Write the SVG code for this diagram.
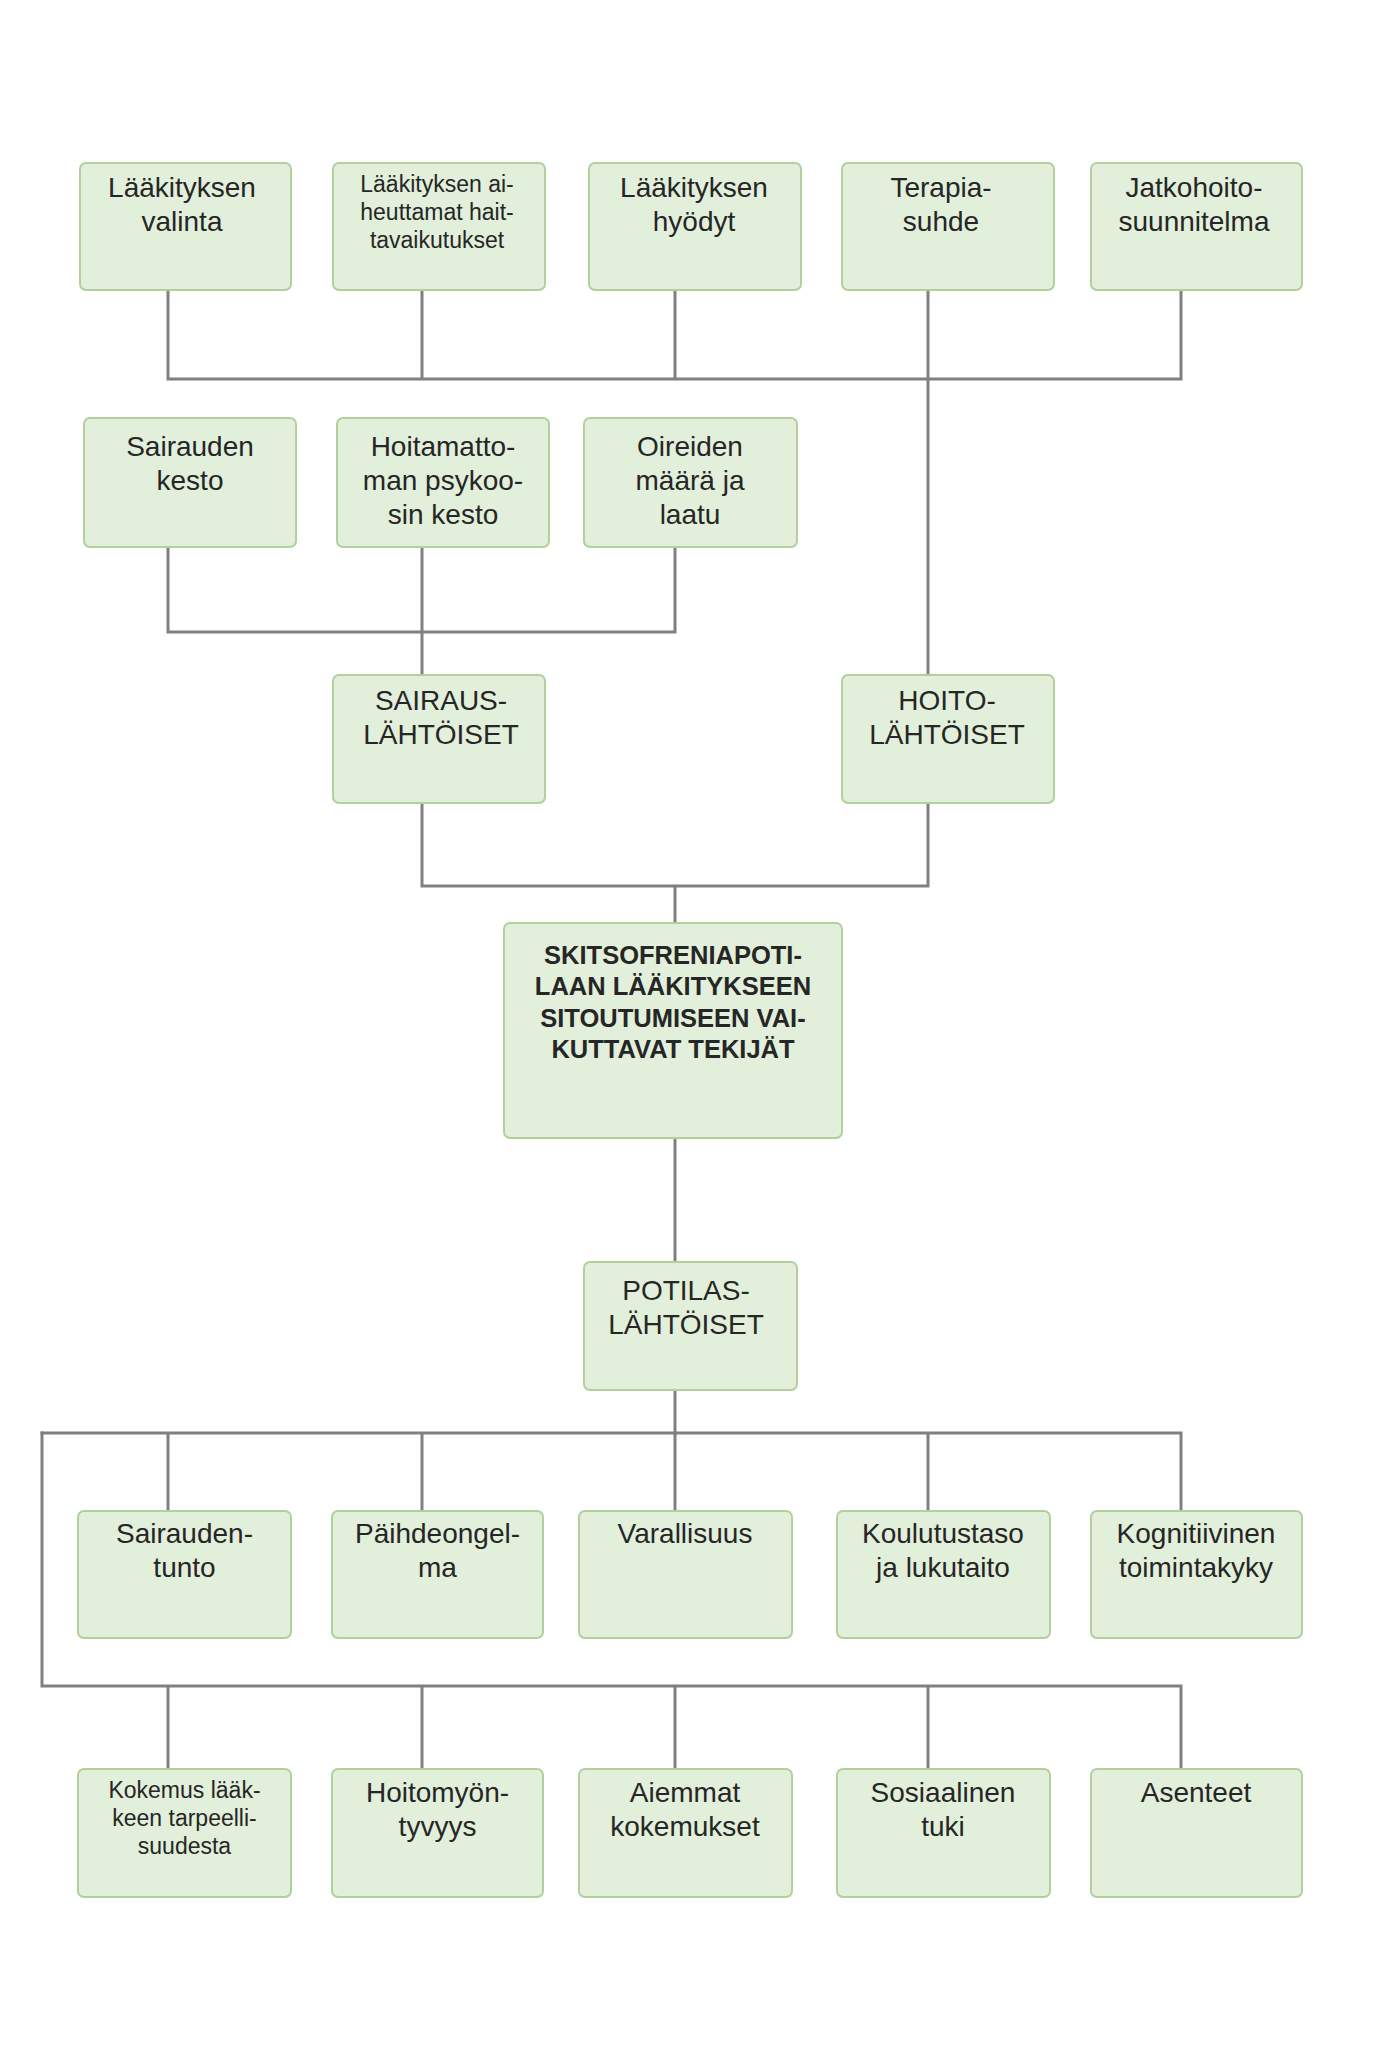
<svg xmlns="http://www.w3.org/2000/svg" width="1395" height="2048" viewBox="0 0 1395 2048">
<style>
.box{fill:#e2efda;stroke:#b2d09c;stroke-width:2}
.t{font-family:"Liberation Sans",Arial,sans-serif;font-size:28px;fill:#262626;text-anchor:middle}
.s{font-family:"Liberation Sans",Arial,sans-serif;font-size:23px;fill:#262626;text-anchor:middle}
.b{font-family:"Liberation Sans",Arial,sans-serif;font-size:25.5px;font-weight:bold;fill:#262626;text-anchor:middle}
.c{fill:none;stroke:#808080;stroke-width:3;stroke-linejoin:miter;stroke-linecap:square}
</style>
<rect width="1395" height="2048" fill="#ffffff"/>
<g id="connectors">
<path class="c" d="M168 290V379M422 290V379M675 290V379M1181 290V379M168 379H1181M928 290V675"/>
<path class="c" d="M168 547V632M675 547V632M168 632H675M422 547V675"/>
<path class="c" d="M422 803V886M928 803V886M422 886H928M675 886V923"/>
<path class="c" d="M675 1138V1262"/>
<path class="c" d="M675 1390V1433"/>
<path class="c" d="M42 1433H1181M168 1433V1511M422 1433V1511M675 1433V1511M928 1433V1511M1181 1433V1511"/>
<path class="c" d="M42 1433V1686M42 1686H1181M168 1686V1769M422 1686V1769M675 1686V1769M928 1686V1769M1181 1686V1769"/>
</g>
<g id="n1"><rect class="box" x="80" y="163" width="211" height="127" rx="6"/><text class="t" x="182" y="197">Lääkityksen</text><text class="t" x="182" y="231">valinta</text></g>
<g id="n2"><rect class="box" x="333" y="163" width="212" height="127" rx="6"/><text class="s" x="437" y="192">Lääkityksen ai-</text><text class="s" x="437" y="220">heuttamat hait-</text><text class="s" x="437" y="248">tavaikutukset</text></g>
<g id="n3"><rect class="box" x="589" y="163" width="212" height="127" rx="6"/><text class="t" x="694" y="197">Lääkityksen</text><text class="t" x="694" y="231">hyödyt</text></g>
<g id="n4"><rect class="box" x="842" y="163" width="212" height="127" rx="6"/><text class="t" x="941" y="197">Terapia-</text><text class="t" x="941" y="231">suhde</text></g>
<g id="n5"><rect class="box" x="1091" y="163" width="211" height="127" rx="6"/><text class="t" x="1194" y="197">Jatkohoito-</text><text class="t" x="1194" y="231">suunnitelma</text></g>
<g id="n6"><rect class="box" x="84" y="418" width="212" height="129" rx="6"/><text class="t" x="190" y="456">Sairauden</text><text class="t" x="190" y="490">kesto</text></g>
<g id="n7"><rect class="box" x="337" y="418" width="212" height="129" rx="6"/><text class="t" x="443" y="456">Hoitamatto-</text><text class="t" x="443" y="490">man psykoo-</text><text class="t" x="443" y="524">sin kesto</text></g>
<g id="n8"><rect class="box" x="584" y="418" width="213" height="129" rx="6"/><text class="t" x="690" y="456">Oireiden</text><text class="t" x="690" y="490">määrä ja</text><text class="t" x="690" y="524">laatu</text></g>
<g id="n9"><rect class="box" x="333" y="675" width="212" height="128" rx="6"/><text class="t" x="441" y="710">SAIRAUS-</text><text class="t" x="441" y="744">LÄHTÖISET</text></g>
<g id="n10"><rect class="box" x="842" y="675" width="212" height="128" rx="6"/><text class="t" x="947" y="710">HOITO-</text><text class="t" x="947" y="744">LÄHTÖISET</text></g>
<g id="n11"><rect class="box" x="504" y="923" width="338" height="215" rx="6"/><text class="b" x="673" y="964">SKITSOFRENIAPOTI-</text><text class="b" x="673" y="995">LAAN LÄÄKITYKSEEN</text><text class="b" x="673" y="1027">SITOUTUMISEEN VAI-</text><text class="b" x="673" y="1058">KUTTAVAT TEKIJÄT</text></g>
<g id="n12"><rect class="box" x="584" y="1262" width="213" height="128" rx="6"/><text class="t" x="686" y="1300">POTILAS-</text><text class="t" x="686" y="1334">LÄHTÖISET</text></g>
<g id="n13"><rect class="box" x="78" y="1511" width="213" height="127" rx="6"/><text class="t" x="184.5" y="1543">Sairauden-</text><text class="t" x="184.5" y="1577">tunto</text></g>
<g id="n14"><rect class="box" x="332" y="1511" width="211" height="127" rx="6"/><text class="t" x="437.5" y="1543">Päihdeongel-</text><text class="t" x="437.5" y="1577">ma</text></g>
<g id="n15"><rect class="box" x="579" y="1511" width="213" height="127" rx="6"/><text class="t" x="685" y="1543">Varallisuus</text></g>
<g id="n16"><rect class="box" x="837" y="1511" width="213" height="127" rx="6"/><text class="t" x="943" y="1543">Koulutustaso</text><text class="t" x="943" y="1577">ja lukutaito</text></g>
<g id="n17"><rect class="box" x="1091" y="1511" width="211" height="127" rx="6"/><text class="t" x="1196" y="1543">Kognitiivinen</text><text class="t" x="1196" y="1577">toimintakyky</text></g>
<g id="n18"><rect class="box" x="78" y="1769" width="213" height="128" rx="6"/><text class="s" x="184.5" y="1798">Kokemus lääk-</text><text class="s" x="184.5" y="1826">keen tarpeelli-</text><text class="s" x="184.5" y="1854">suudesta</text></g>
<g id="n19"><rect class="box" x="332" y="1769" width="211" height="128" rx="6"/><text class="t" x="437.5" y="1802">Hoitomyön-</text><text class="t" x="437.5" y="1836">tyvyys</text></g>
<g id="n20"><rect class="box" x="579" y="1769" width="213" height="128" rx="6"/><text class="t" x="685" y="1802">Aiemmat</text><text class="t" x="685" y="1836">kokemukset</text></g>
<g id="n21"><rect class="box" x="837" y="1769" width="213" height="128" rx="6"/><text class="t" x="943" y="1802">Sosiaalinen</text><text class="t" x="943" y="1836">tuki</text></g>
<g id="n22"><rect class="box" x="1091" y="1769" width="211" height="128" rx="6"/><text class="t" x="1196" y="1802">Asenteet</text></g>
</svg>
